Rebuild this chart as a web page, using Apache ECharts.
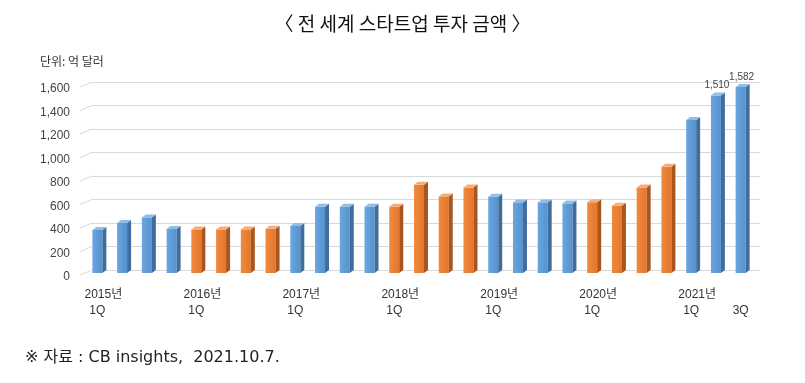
<!DOCTYPE html>
<html>
<head>
<meta charset="utf-8">
<script src="https://cdn.jsdelivr.net/npm/echarts@6/dist/echarts.min.js"></script>
<style>
html,body{margin:0;padding:0;background:#fff;}
#chart{width:805px;height:383px;}
</style>
</head>
<body>
<div id="chart"></div>
<script>
const categories = [
  '2015년 1Q','2015년 2Q','2015년 3Q','2015년 4Q',
  '2016년 1Q','2016년 2Q','2016년 3Q','2016년 4Q',
  '2017년 1Q','2017년 2Q','2017년 3Q','2017년 4Q',
  '2018년 1Q','2018년 2Q','2018년 3Q','2018년 4Q',
  '2019년 1Q','2019년 2Q','2019년 3Q','2019년 4Q',
  '2020년 1Q','2020년 2Q','2020년 3Q','2020년 4Q',
  '2021년 1Q','2021년 2Q','2021년 3Q'
];
const values = [366,426,473,374,371,371,371,377,400,564,564,564,564,751,652,728,649,601,601,592,602,573,728,905,1302,1510,1582];
const labeledBars = [25, 26];
const yMin = 0, yMax = 1600, yInterval = 200;
const yTicks = [0,200,400,600,800,1000,1200,1400,1600];

const FONT = "'Liberation Sans', 'Noto Sans CJK KR', sans-serif";
const KFONT = "'Noto Sans CJK KR', sans-serif";
const NFONT = "'DejaVu Sans', 'Noto Sans CJK KR', sans-serif";

const palette = {
  blue:   {front0:'#6AA7E0', front1:'#5592CE', side:'#3F6E9E', top:'#8DBDE8'},
  orange: {front0:'#F08A40', front1:'#E4762A', side:'#A9561E', top:'#F6AC78'}
};

function xLabelFormatter(value, index) {
  if (index === categories.length - 1) {
    return '{a| }\n{b|' + value.split(' ')[1] + '}';
  }
  const parts = value.split(' ');
  return '{a|' + parts[0] + '}\n{b|' + parts[1] + '}';
}

const chart = echarts.init(document.getElementById('chart'), null, {renderer:'canvas'});

const option = {
  animation: false,
  backgroundColor: '#ffffff',
  title: {
    text: '〈 전 세계 스타트업 투자 금액 〉',
    left: 'center',
    top: 9,
    textStyle: {fontFamily: KFONT, fontSize: 19, fontWeight: 'normal', color: '#111'}
  },
  graphic: [
    {type:'text', left: 40, top: 55, style:{text:'단위: 억 달러', font:'12px ' + KFONT, fill:'#333'}},
    {type:'text', left: 25, top: 350, style:{text:'※ 자료 : CB insights,  2021.10.7.', font:'16px ' + NFONT, fill:'#222'}}
  ],
  grid: [
    {left: 85, right: 52, top: 82, bottom: 113},
    {left: 92, right: 45, top: 82, bottom: 113}
  ],
  xAxis: [
    {
      gridIndex: 0, type: 'category', data: categories,
      axisLine: {show:false}, axisTick: {show:false}, splitLine:{show:false},
      axisLabel: {
        interval: function(index){ return index % 4 === 0 || index === categories.length - 1; },
        formatter: xLabelFormatter,
        margin: 17,
        rich: {
          a: {fontFamily: FONT, fontSize: 12, color:'#333', lineHeight: 16, padding:[0,0,0,12]},
          b: {fontFamily: FONT, fontSize: 12, color:'#333', lineHeight: 16}
        }
      }
    },
    {gridIndex: 1, type: 'value', min: 0, max: 1, show: false}
  ],
  yAxis: [
    {
      gridIndex: 0, type: 'value', min: yMin, max: yMax, interval: yInterval,
      axisLine:{show:false}, axisTick:{show:false}, splitLine:{show:false},
      axisLabel: {
        margin: 15, fontFamily: FONT, fontSize: 12, color: '#444',
        verticalAlign: 'top', padding: [1,0,0,0],
        formatter: function(v){ return v.toLocaleString('en-US'); }
      }
    },
    {
      gridIndex: 1, type: 'value', min: yMin, max: yMax, interval: yInterval,
      axisLine:{show:false}, axisTick:{show:false}, axisLabel:{show:false},
      splitLine: {show:true, lineStyle:{color:'#d9d9d9', width:1}}
    }
  ],
  series: [
    {
      type: 'custom',
      xAxisIndex: 1, yAxisIndex: 1,
      data: yTicks.map(function(t){ return [0, t]; }),
      renderItem: function(params, api){
        const p = api.coord([api.value(0), api.value(1)]);
        return {
          type: 'line', silent: true,
          shape: {x1: p[0] - 12, y1: p[1] + 5, x2: p[0], y2: p[1]},
          style: {stroke: '#d9d9d9', lineWidth: 1}
        };
      },
      z: 1
    },
    {
      type: 'custom',
      xAxisIndex: 0, yAxisIndex: 0,
      data: values.map(function(v, i){ return [i, v]; }),
      encode: {x: 0, y: 1},
      renderItem: function(params, api){
        const i = api.value(0), v = api.value(1);
        const top = api.coord([i, v]);
        const base = api.coord([i, 0]);
        const w = 10, dx = 4, dy = 3;
        const cx = top[0];
        const x1 = cx - w/2, x2 = x1 + w;
        const yb = top[1], y0 = base[1];
        const c = (Math.floor(i / 4) % 2 === 0) ? palette.blue : palette.orange;
        const children = [
          {type:'rect', shape:{x:x1, y:yb+dy, width:w, height:(y0 - yb)},
           style:{fill: new echarts.graphic.LinearGradient(0,0,1,0,[{offset:0,color:c.front0},{offset:1,color:c.front1}])}},
          {type:'polygon', shape:{points:[[x2, yb+dy],[x2+dx, yb],[x2+dx, y0],[x2, y0+dy]]}, style:{fill:c.side}},
          {type:'polygon', shape:{points:[[x1, yb+dy],[x1+dx, yb],[x2+dx, yb],[x2, yb+dy]]}, style:{fill:c.top}}
        ];
        if (labeledBars.indexOf(i) >= 0) {
          children.push({type:'text', style:{
            x: cx + 1, y: yb - 2, text: v.toLocaleString('en-US'),
            font: '10px ' + FONT, fill:'#444', align:'center', verticalAlign:'bottom'
          }});
        }
        return {type:'group', children: children};
      },
      z: 2
    }
  ]
};
chart.setOption(option);
</script>
</body>
</html>
